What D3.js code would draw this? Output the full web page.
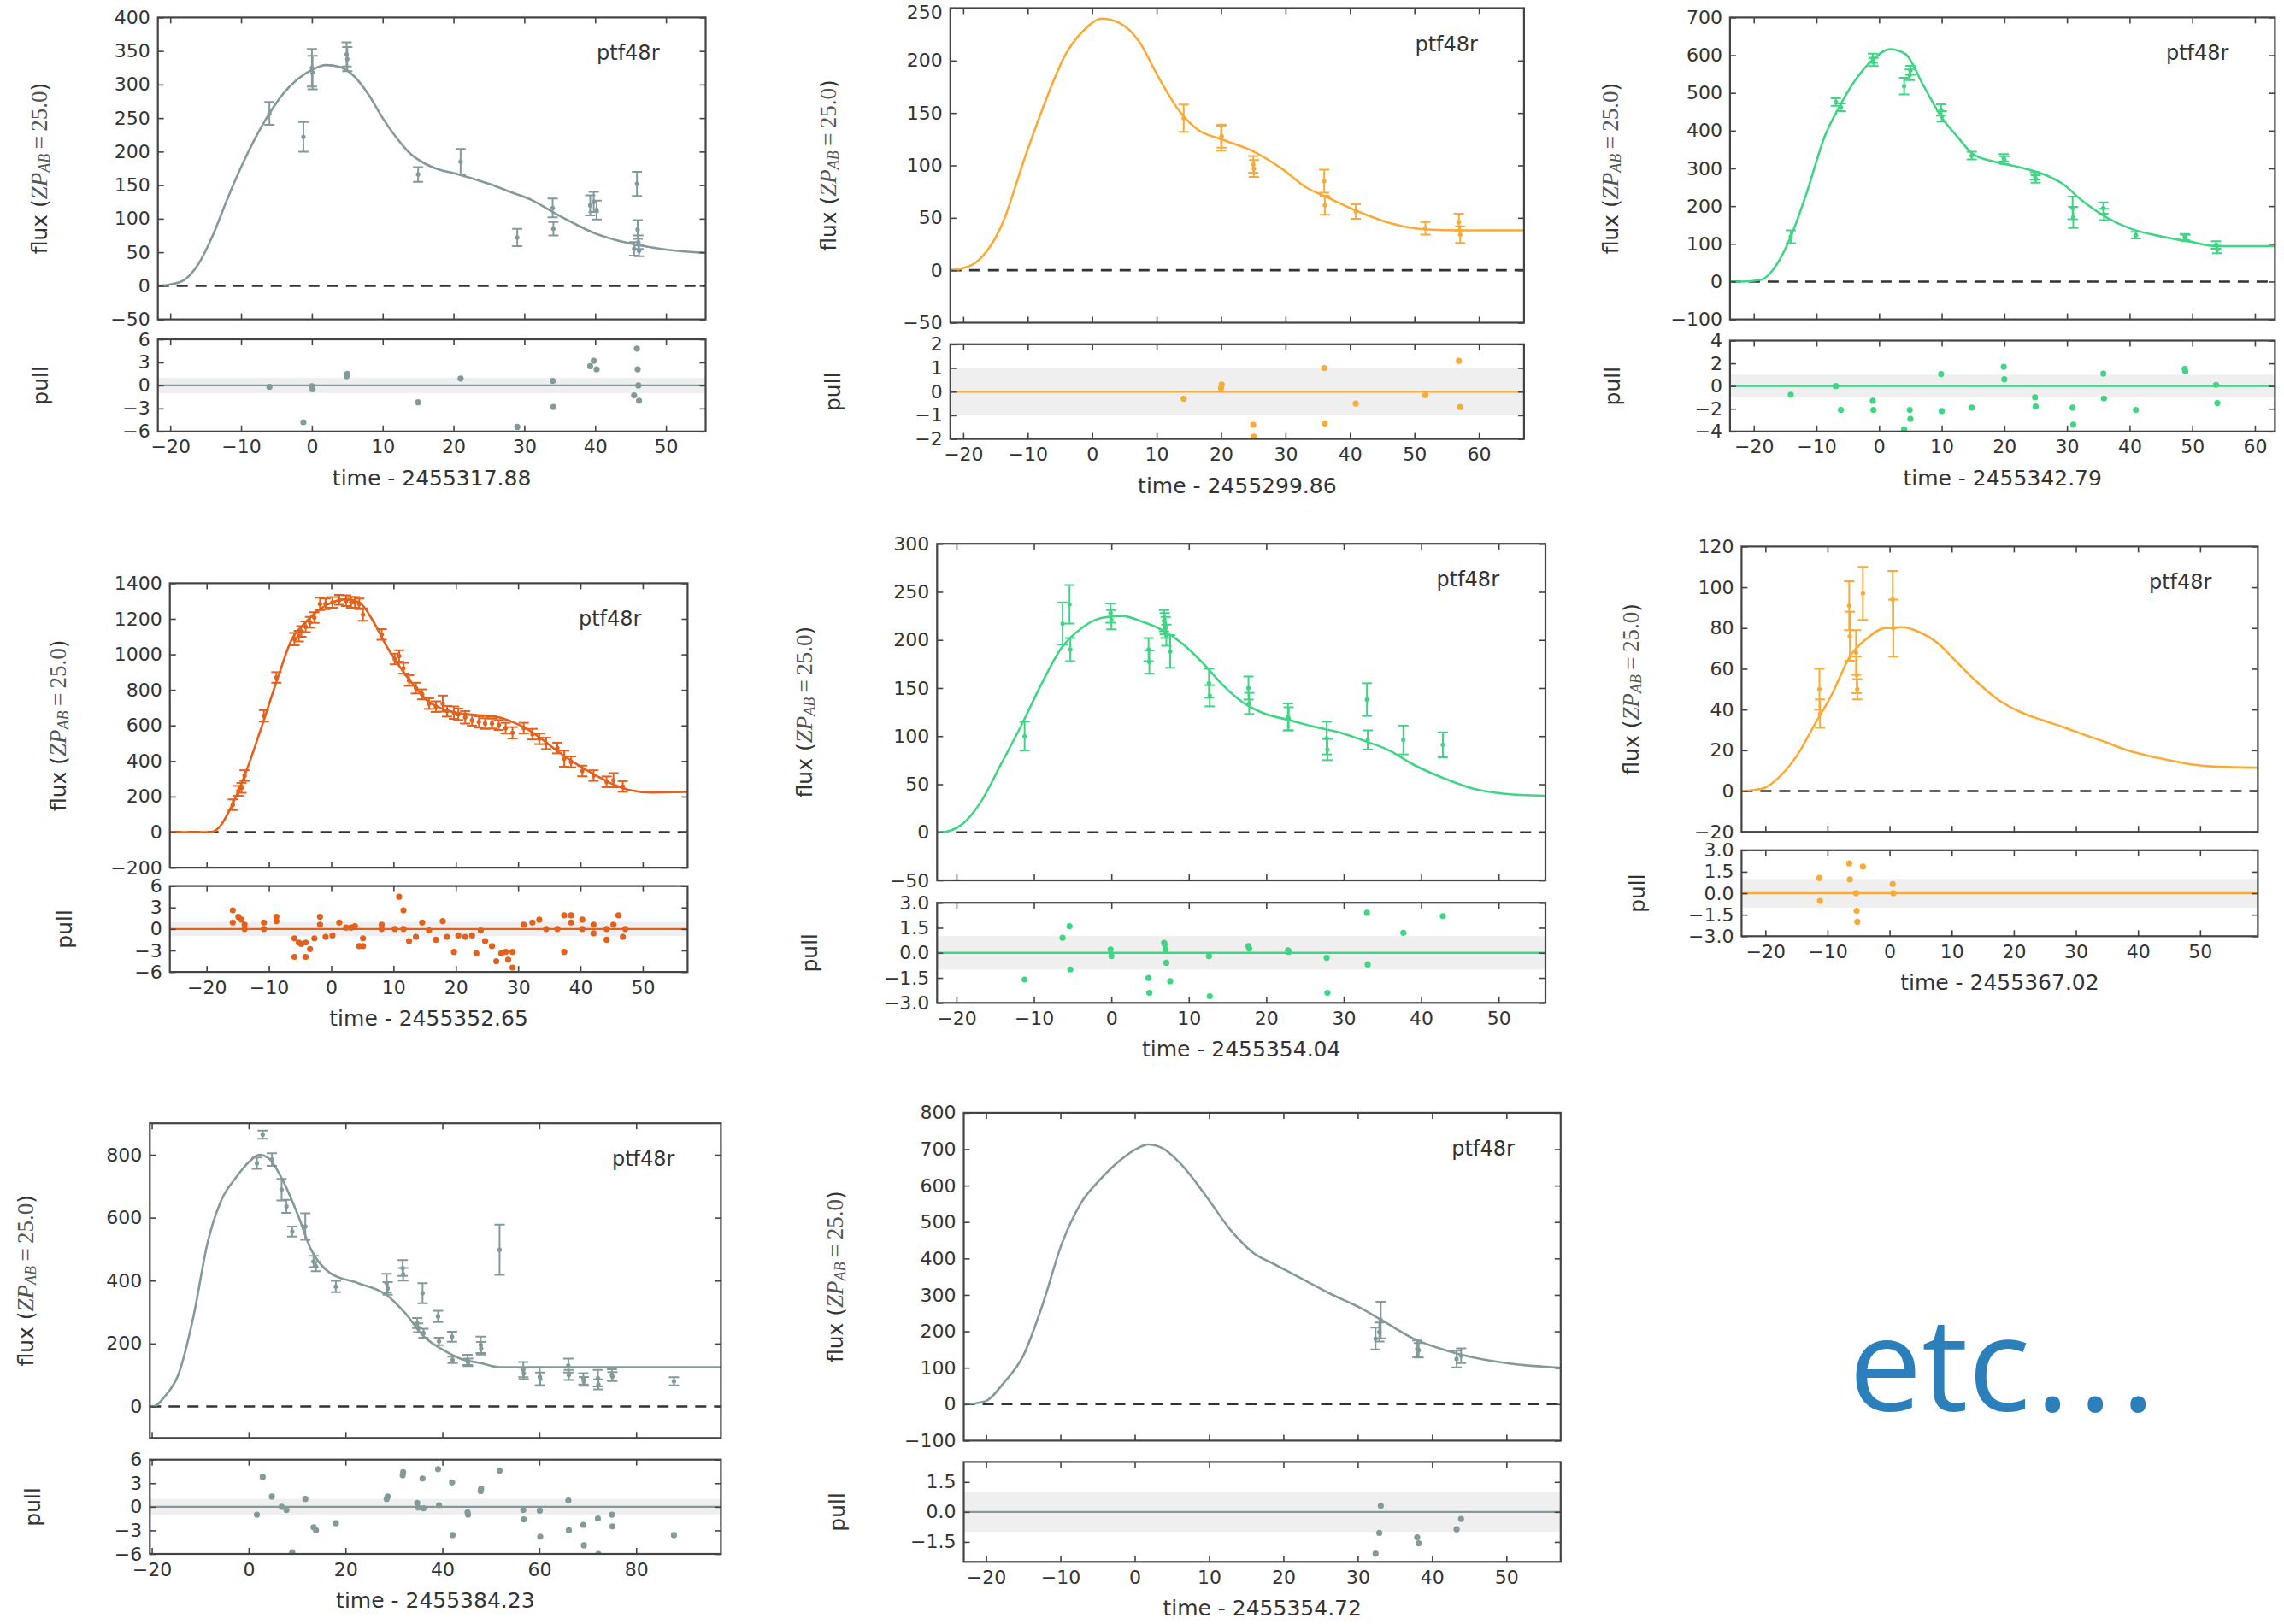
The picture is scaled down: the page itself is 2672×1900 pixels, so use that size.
<!DOCTYPE html>
<html><head><meta charset="utf-8">
<script src="https://cdn.jsdelivr.net/npm/d3@7"></script>
<style>body{margin:0;background:#fff} svg{display:block;background:#fff}</style>
</head><body>
<svg id="c" width="2672" height="1900"></svg>
<script>
// ---------------- DATA ----------------
// Panel 1
const p1Time = [-6, -1.2, 0, 0.1, 4.9, 5.0, 15, 21, 29, 34, 34.1, 39.3, 39.8, 40.2, 45.5, 45.9, 46, 46.1, 46.2];
const p1Flux = [257, 222, 325, 318, 345, 338, 166, 185, 72, 116, 85, 120, 125, 113, 55, 152, 84, 65, 52];
const p1Err  = [17, 22, 28, 25, 18, 18, 11, 19, 13, 14, 10, 15, 15, 14, 10, 18, 14, 10, 8];
const p1ModelT = [-21.75,-20,-18,-16,-14,-12,-10,-8,-6,-4,-2,0,2,4,6,8,10,12,14,16,18,20,22,25,28,31,34,37,40,43,46,50,55.6];
const p1ModelF = [0,2,9,33,75,128,177,220,257,287,308,322,329,326,312,285,250,220,196,182,173,168,162,152,140,128,110,93,78,68,61,54,49];
const p1PullT = p1Time;
const p1PullV = [-0.2, -4.8, -0.1, -0.5, 1.2, 1.5, -2.2, 0.9, -5.4, 0.6, -2.8, 2.5, 3.2, 2.1, -1.3, 4.8, 2.1, 0.0, -2.0];
const p1YTicks = [-50,0,50,100,150,200,250,300,350,400];
const p1XTicks = [-20,-10,0,10,20,30,40,50];
const p1PullTicks = [-6,-3,0,3,6];

// Panel 2
const p2Time = [14.2, 20.0, 20.1, 25.0, 25.1, 36.0, 36.1, 40.9, 51.7, 56.9, 57.1];
const p2Flux = [145, 126, 128, 101, 97, 85, 62, 56, 40, 46, 34];
const p2Err  = [13, 12, 11, 8, 8, 11, 9, 7, 6, 8, 8];
const p2ModelT = [-22,-20.6,-17.9,-14.1,-10.3,-7.2,-4.2,-1.1,1.5,4.2,7.3,10.3,13.4,16.4,20,24.8,29.4,33.2,36.3,40.9,46.2,51.6,56.9,67];
const p2ModelF = [0,1,8,42,110,162,205,230,240,236,218,184,153,134,125,114,97,79,70,57,45,39,38,38];
const p2PullT = p2Time;
const p2PullV = [-0.3, 0.15, 0.3, -1.4, -1.9, 1.0, -1.35, -0.5, -0.15, 1.3, -0.65];
const p2YTicks = [-50,0,50,100,150,200,250];
const p2XTicks = [-20,-10,0,10,20,30,40,50,60];
const p2PullTicks = [-2,-1,0,1,2];

// Panel 3
const p3Time = [-14.1, -6.9, -6.1, -1.0, -0.9, 4.0, 4.9, 5.0, 9.9, 10.0, 14.8, 19.9, 20.0, 24.9, 25.0, 30.9, 31.0, 35.8, 35.9, 41.0, 48.8, 48.9, 53.8, 54.0];
const p3Flux = [119, 476, 462, 592, 582, 518, 548, 560, 455, 438, 334, 328, 322, 280, 272, 195, 170, 195, 178, 123, 118, 116, 97, 85];
const p3Err  = [17, 10, 10, 12, 11, 22, 14, 12, 15, 14, 10, 10, 10, 10, 10, 30, 28, 15, 15, 9, 8, 8, 10, 10];
const p3ModelT = [-23.8,-22,-18.8,-16.6,-14.1,-11.6,-8.7,-6.2,-3.7,-0.8,1.7,4.2,7.1,10,12.5,15,18.6,22.2,26.5,29.4,32.3,35.9,40.2,45.3,49.6,53.9,63.2];
const p3ModelF = [0,0,5,39,119,233,384,468,536,591,616,603,519,435,384,338,317,304,283,258,216,174,140,119,106,94,94];
const p3PullT = p3Time;
const p3PullV = [-0.76, 0.0, -2.1, -1.3, -2.1, -3.8, -2.1, -2.9, 1.06, -2.2, -1.9, 1.7, 0.6, -1.0, -1.8, -1.9, -3.4, 1.1, -1.1, -2.1, 1.5, 1.3, 0.1, -1.5];
const p3YTicks = [-100,0,100,200,300,400,500,600,700];
const p3XTicks = [-20,-10,0,10,20,30,40,50,60];
const p3PullTicks = [-4,-2,0,2,4];

// Panel 4
const p4Time = [-15.8,-14.9,-14.4,-13.9,-10.8,-8.8,-5.9,-5.2,-4.8,-4.1,-3.4,-2.7,-1.8,-0.9,0.2,1.3,2.4,3.2,3.8,4.5,5.1,8.1,10.2,10.9,11.6,12.5,13.6,14.6,15.7,16.8,17.9,18.6,19.7,20.4,21.5,22.6,23.7,24.7,25.8,26.9,28.0,29.1,30.9,32.3,33.4,34.5,36.3,37.4,38.5,40.3,42.1,44.2,45.3,46.8];
const p4Flux = [154,232,249,318,654,870,1086,1103,1129,1155,1181,1207,1284,1284,1293,1307,1302,1293,1293,1284,1224,1112,974,991,922,853,810,775,723,706,723,680,672,663,646,629,620,611,611,603,585,559,585,551,525,499,473,413,395,344,318,283,292,257];
const p4Err  = [30,28,28,30,32,30,35,30,30,30,30,30,35,30,30,28,30,30,30,30,35,30,30,32,30,30,30,28,30,30,45,30,35,32,35,30,32,30,28,28,30,32,30,30,30,32,30,45,30,30,30,30,40,30];
const p4ModelT = [-25.9,-19.3,-17.8,-16,-13.9,-11.4,-8.8,-6.3,-4.1,-2,0.2,2.4,4.5,6.7,8.8,11,13.2,15.4,18.2,21.9,24.7,26.9,29.1,31.2,33.4,36.3,39.2,42.1,44.9,47.8,51.4,57.2];
const p4ModelF = [0,0,35,145,318,568,844,1086,1181,1250,1293,1310,1293,1189,1051,931,827,741,689,663,654,646,620,585,534,456,387,326,275,237,223,226];
const p4PullT = [-15.8,-15.8,-14.9,-14.4,-13.9,-13.9,-10.8,-10.8,-8.8,-8.8,-5.9,-5.9,-5.2,-4.8,-4.1,-4.1,-3.4,-2.7,-1.8,-1.8,-0.9,0.2,1.3,2.4,3.2,3.8,4.5,5.1,5.1,8.1,8.1,10.2,10.9,11.6,11.6,12.5,13.6,14.6,15.7,16.8,17.9,18.6,19.7,20.4,21.5,22.6,23.3,24.0,24.7,25.8,26.5,27.3,28.0,28.4,29.1,29.1,30.9,32.3,33.4,34.5,36.3,37.4,37.4,38.5,38.5,40.3,40.3,42.1,42.1,44.2,44.2,45.3,46.1,46.8,47.2];
const p4PullV = [2.6,0.9,1.7,1.3,0.0,0.6,0.9,0.0,1.7,1.1,-1.3,-3.9,-1.9,-2.1,-1.9,-3.9,-2.8,-1.3,1.7,0.6,-1.1,-0.9,0.9,0.2,0.2,0.4,-2.4,-1.3,-2.4,0.6,0.0,0.0,4.5,2.6,0.0,-1.7,-1.1,0.9,-0.2,-1.5,1.1,-1.1,-3.2,-0.9,-1.1,-0.9,-3.4,-0.2,-1.7,-2.4,-4.5,-3.4,-3.2,-4.3,-3.2,-5.4,0.6,0.9,1.3,0.0,0.0,1.9,-3.2,1.9,0.9,1.3,0.0,0.6,-0.6,-1.5,0.0,0.6,1.9,-1.1,0.0];
const p4YTicks = [-200,0,200,400,600,800,1000,1200,1400];
const p4XTicks = [-20,-10,0,10,20,30,40,50];
const p4PullTicks = [-6,-3,0,3,6];

// Panel 5
const p5Time = [-11.2, -6.3, -5.4, -5.3, -0.1, 0.0, 4.8, 4.9, 6.8, 6.9, 7.0, 7.1, 7.6, 12.6, 12.7, 17.7, 17.8, 22.8, 22.9, 27.8, 27.9, 33.0, 33.1, 37.7, 42.8];
const p5Flux = [100, 217, 237, 190, 228, 221, 190, 177, 220, 217, 213, 205, 188, 155, 142, 150, 134, 120, 118, 98, 86, 138, 96, 96, 91];
const p5Err  = [15, 22, 20, 12, 10, 10, 12, 12, 11, 11, 11, 11, 17, 15, 11, 12, 11, 14, 12, 17, 11, 17, 10, 15, 13];
const p5ModelT = [-22.5,-22.1,-19.5,-16.9,-14.3,-11.7,-9.1,-6.5,-3.9,-1.2,1.4,4,6.6,9.2,11.8,14.4,17,19.6,22.8,26.1,29.4,32.7,35.9,39.1,43,46.9,50.8,56.05];
const p5ModelF = [0,0,7,31,70,110,153,191,212,223,225,219,210,196,176,153,135,124,117,110,104,95,85,70,56,45,40,38];
const p5PullT = p5Time;
const p5PullV = [-1.6, 0.9, 1.6, -1.0, 0.2, -0.2, -1.5, -2.4, 0.6, 0.5, 0.2, -0.6, -1.7, -0.2, -2.6, 0.4, 0.25, 0.15, 0.05, -0.3, -2.4, 2.4, -0.7, 1.2, 2.2];
const p5YTicks = [-50,0,50,100,150,200,250,300];
const p5XTicks = [-20,-10,0,10,20,30,40,50];
const p5PullTicks = [-3,-1.5,0,1.5,3];

// Panel 6
const p6Time = [-11.3, -11.2, -6.5, -6.4, -5.4, -5.3, -5.2, -4.3, 0.5, 0.6];
const p6Flux = [50, 38, 91, 76, 68, 57, 50, 97, 94, 80];
const p6Err  = [10, 7, 12, 12, 11, 9, 5, 13, 14, 14];
const p6ModelT = [-23.84,-23.1,-20.3,-17.6,-14.8,-12,-9.2,-6.4,-3.6,-0.8,2,4.8,7.6,10.4,13.9,17.4,20.9,24.4,27.9,31.3,34.8,38.3,41.8,45.3,48.8,52.3,59.3];
const p6ModelF = [0,0.2,1.4,7.4,18,33,48,66,75,80,80.4,78,73,64.6,54,45,39,35,31.5,27.7,24,20,17.2,15,13,12,11.5];
const p6PullT = p6Time;
const p6PullV = [1.07, -0.54, 2.08, 0.96, 0.0, -1.22, -1.99, 1.86, 0.64, 0.0];
const p6YTicks = [-20,0,20,40,60,80,100,120];
const p6XTicks = [-20,-10,0,10,20,30,40,50];
const p6PullTicks = [-3,-1.5,0,1.5,3];

// Panel 7
const p7Time = [1.7, 2.9, 4.8, 6.8, 7.8, 9.0, 11.7, 13.4, 13.9, 18.0, 28.5, 28.7, 31.8, 31.9, 34.8, 35.0, 35.9, 36.1, 39.1, 39.3, 42.0, 42.1, 45.2, 45.3, 47.9, 48.0, 51.8, 56.7, 56.8, 60.1, 60.2, 66.0, 66.1, 69.1, 69.2, 72.1, 72.2, 75.0, 75.1, 87.8];
const p7Flux = [773, 864, 785, 689, 636, 556, 572, 461, 445, 381, 392, 375, 440, 420, 265, 250, 360, 233, 286, 207, 222, 148, 148, 140, 196, 185, 498, 117, 105, 95, 88, 130, 100, 88, 80, 90, 70, 100, 95, 80];
const p7Err  = [18, 13, 20, 34, 21, 16, 42, 18, 15, 18, 30, 20, 25, 20, 16, 14, 32, 14, 18, 12, 16, 10, 16, 12, 26, 20, 80, 24, 18, 29, 20, 22, 16, 18, 14, 26, 16, 18, 14, 13];
const p7ModelT = [-20.4,-19.7,-17.3,-14.4,-11.4,-8.5,-5.6,-2.7,0.2,2.2,4.1,7,10,12.9,16.8,22.6,28.4,32.3,36.2,40.1,44,47.9,51.8,97.5];
const p7ModelF = [0,0,32,106,286,519,657,726,779,800,789,720,615,498,424,392,355,297,222,180,150,138,125,125];
const p7PullT = p7Time;
const p7PullV = [-1.0, 3.8, 1.3, 0.0, -0.4, -5.8, 1.0, -2.6, -3.0, -2.1, 1.0, 1.3, 4.0, 4.4, 0.5, -0.1, 3.6, -0.2, 4.8, 0.2, 3.1, -3.6, -0.7, -1.0, 2.0, 2.3, 4.6, -0.4, -1.6, -0.5, -3.8, 0.8, -3.0, -2.3, -4.9, -1.5, -6.0, -1.0, -2.5, -3.6];
const p7YTicks = [0,200,400,600,800];
const p7XTicks = [-20,0,20,40,60,80];
const p7PullTicks = [-6,-3,0,3,6];

// Panel 8
const p8Time = [32.4, 32.9, 33.1, 38.0, 38.2, 43.3, 43.9];
const p8Flux = [180, 198, 231, 152, 148, 124, 133];
const p8Err  = [30, 26, 50, 23, 20, 23, 20];
const p8ModelT = [-23,-22.8,-20.2,-17.6,-15,-12.4,-9.8,-7.2,-4.6,-2,0.5,1.8,3.8,6.4,9.6,12.9,16.1,18.7,22.6,26.5,30.4,33.6,37.5,42,46.6,51.1,57.3];
const p8ModelF = [0,0,7,59,133,273,441,553,618,669,704,713,702,655,571,478,413,385,343,301,264,226,180,147,124,110,100];
const p8PullT = p8Time;
const p8PullV = [-2.09, -1.05, 0.3, -1.27, -1.57, -0.87, -0.35];
const p8YTicks = [-100,0,100,200,300,400,500,600,700,800];
const p8XTicks = [-20,-10,0,10,20,30,40,50];
const p8PullTicks = [-1.5,0,1.5];

const timeOffsets = ["2455317.88","2455299.86","2455342.79","2455352.65","2455354.04","2455367.02","2455384.23","2455354.72"];
const bandName = "ptf48r";
const extraWord = "etc";
const extraDots = "...";

// ---------------- STYLE / LAYOUT ----------------
const colGray = "#84999a", colOrange = "#f9ab35", colGreen = "#40d585", colDark = "#e2621d";
const layout = [
  {x0:184.7, x1:825.5, m0:20.4, m1:373.6, q0:397, q1:504.8, xd:[-21.75,55.6], yd:[-50,400], pd:[-6,6], ylx:46, plx:48, col:colGray, dec:0},
  {x0:1111.8, x1:1782.9, m0:9.5, m1:377.5, q0:402.8, q1:513.6, xd:[-22,67], yd:[-50,250], pd:[-2,2], ylx:969, plx:975, col:colOrange, dec:0},
  {x0:2023.9, x1:2661.4, m0:20.4, m1:373.6, q0:398.5, q1:504.8, xd:[-23.8,63.2], yd:[-100,700], pd:[-4,4], ylx:1884, plx:1887, col:colGreen, dec:0},
  {x0:198.7, x1:804.4, m0:682.4, m1:1015.1, q0:1036.6, q1:1137.1, xd:[-25.9,57.2], yd:[-200,1400], pd:[-6,6], ylx:68, plx:76, col:colDark, dec:0},
  {x0:1096.3, x1:1808, m0:636.2, m1:1030, q0:1056.2, q1:1173.3, xd:[-22.5,56.05], yd:[-50,300], pd:[-3,3], ylx:941, plx:947, col:colGreen, dec:1},
  {x0:2037.4, x1:2641.4, m0:639.4, m1:973.2, q0:994.8, q1:1095.3, xd:[-23.84,59.3], yd:[-20,120], pd:[-3,3], ylx:1908, plx:1916, col:colOrange, dec:1},
  {x0:175.3, x1:843.4, m0:1314.2, m1:1682.3, q0:1707.7, q1:1818, xd:[-20.4,97.5], yd:[-100,900], pd:[-6,6], ylx:30, plx:39, col:colGray, dec:0},
  {x0:1127.5, x1:1825.8, m0:1301.9, m1:1685.4, q0:1710.4, q1:1827.3, xd:[-23,57.3], yd:[-100,800], pd:[-2.5,2.5], ylx:977, plx:980, col:colGray, dec:1}
];

const panelData = [
  {t:p1Time,f:p1Flux,e:p1Err,mt:p1ModelT,mf:p1ModelF,pt:p1PullT,pv:p1PullV,yt:p1YTicks,xt:p1XTicks,ptk:p1PullTicks},
  {t:p2Time,f:p2Flux,e:p2Err,mt:p2ModelT,mf:p2ModelF,pt:p2PullT,pv:p2PullV,yt:p2YTicks,xt:p2XTicks,ptk:p2PullTicks},
  {t:p3Time,f:p3Flux,e:p3Err,mt:p3ModelT,mf:p3ModelF,pt:p3PullT,pv:p3PullV,yt:p3YTicks,xt:p3XTicks,ptk:p3PullTicks},
  {t:p4Time,f:p4Flux,e:p4Err,mt:p4ModelT,mf:p4ModelF,pt:p4PullT,pv:p4PullV,yt:p4YTicks,xt:p4XTicks,ptk:p4PullTicks},
  {t:p5Time,f:p5Flux,e:p5Err,mt:p5ModelT,mf:p5ModelF,pt:p5PullT,pv:p5PullV,yt:p5YTicks,xt:p5XTicks,ptk:p5PullTicks},
  {t:p6Time,f:p6Flux,e:p6Err,mt:p6ModelT,mf:p6ModelF,pt:p6PullT,pv:p6PullV,yt:p6YTicks,xt:p6XTicks,ptk:p6PullTicks},
  {t:p7Time,f:p7Flux,e:p7Err,mt:p7ModelT,mf:p7ModelF,pt:p7PullT,pv:p7PullV,yt:p7YTicks,xt:p7XTicks,ptk:p7PullTicks},
  {t:p8Time,f:p8Flux,e:p8Err,mt:p8ModelT,mf:p8ModelF,pt:p8PullT,pv:p8PullV,yt:p8YTicks,xt:p8XTicks,ptk:p8PullTicks}
];

const TXT = "#333", AX = "#444";
const FONT = "DejaVu Sans";
const TICKFS = 22, LABFS = 25;
const svg = d3.select("#c");
svg.append("rect").attr("width",2672).attr("height",1900).attr("fill","#fff");
const defs = svg.append("defs");

const minus = s => s.replace(/-/g, "\u2212");

function styleAxis(g){
  g.select(".domain").remove();
  g.selectAll(".tick line").attr("stroke", AX).attr("stroke-width", 1.6);
  g.selectAll(".tick text").attr("font-family", FONT).attr("font-size", TICKFS).attr("fill", TXT);
}

panelData.forEach((d, i) => {
  const L = layout[i];
  const g = svg.append("g");
  const x = d3.scaleLinear().domain(L.xd).range([L.x0, L.x1]);
  const y = d3.scaleLinear().domain(L.yd).range([L.m1, L.m0]);
  const yp = d3.scaleLinear().domain(L.pd).range([L.q1, L.q0]);
  const fmtY = v => minus(d3.format("d")(v));
  const fmtP = v => minus(d3.format(L.dec ? ".1f" : "d")(v));

  const cm = "clipm" + i, cp = "clipp" + i;
  defs.append("clipPath").attr("id", cm).append("rect")
    .attr("x", L.x0).attr("y", L.m0).attr("width", L.x1 - L.x0).attr("height", L.m1 - L.m0);
  defs.append("clipPath").attr("id", cp).append("rect")
    .attr("x", L.x0).attr("y", L.q0).attr("width", L.x1 - L.x0).attr("height", L.q1 - L.q0);

  // ---- main plot ----
  const gm = g.append("g").attr("clip-path", `url(#${cm})`);
  gm.append("line").attr("x1", L.x0).attr("x2", L.x1).attr("y1", y(0)).attr("y2", y(0))
    .attr("stroke", "#333").attr("stroke-width", 2.6).attr("stroke-dasharray", "13,9");
  const line = d3.line().x(v => x(v[0])).y(v => y(v[1])).curve(d3.curveMonotoneX);
  gm.append("path").datum(d.mt.map((t, k) => [t, d.mf[k]]))
    .attr("d", line).attr("fill", "none").attr("stroke", L.col).attr("stroke-width", 2.6);
  const pts = d.t.map((t, k) => ({t, f: d.f[k], e: d.e[k]}));
  const eb = gm.append("g").attr("stroke", L.col).attr("stroke-width", 2);
  pts.forEach(p => {
    eb.append("line").attr("x1", x(p.t)).attr("x2", x(p.t)).attr("y1", y(p.f - p.e)).attr("y2", y(p.f + p.e));
    eb.append("line").attr("x1", x(p.t) - 6).attr("x2", x(p.t) + 6).attr("y1", y(p.f - p.e)).attr("y2", y(p.f - p.e));
    eb.append("line").attr("x1", x(p.t) - 6).attr("x2", x(p.t) + 6).attr("y1", y(p.f + p.e)).attr("y2", y(p.f + p.e));
  });
  gm.append("g").selectAll("circle").data(pts).join("circle")
    .attr("cx", p => x(p.t)).attr("cy", p => y(p.f)).attr("r", 2.6).attr("fill", L.col);

  // axes main
  const la = g.append("g").attr("transform", `translate(${L.x0},0)`)
    .call(d3.axisLeft(y).tickValues(d.yt).tickSize(-7).tickPadding(9).tickFormat(fmtY)).call(styleAxis);
  // keep the topmost label inside the page
  la.selectAll(".tick").each(function(v){
    if (y(v) < 14) d3.select(this).select("text").attr("dy", (0.32 + (14 - y(v)) / TICKFS) + "em");
  });
  g.append("g").attr("transform", `translate(${L.x1},0)`)
    .call(d3.axisRight(y).tickValues(d.yt).tickSize(-7).tickFormat("")).call(styleAxis);
  g.append("g").attr("transform", `translate(0,${L.m0})`)
    .call(d3.axisTop(x).tickValues(d.xt).tickSize(-7).tickFormat("")).call(styleAxis);
  g.append("g").attr("transform", `translate(0,${L.m1})`)
    .call(d3.axisBottom(x).tickValues(d.xt).tickSize(-7).tickFormat("")).call(styleAxis);
  g.append("rect").attr("x", L.x0).attr("y", L.m0).attr("width", L.x1 - L.x0).attr("height", L.m1 - L.m0)
    .attr("fill", "none").attr("stroke", AX).attr("stroke-width", 2.2);

  // band label
  g.append("text").attr("x", L.x1 - 54).attr("y", L.m0 + 50).attr("text-anchor", "end")
    .attr("font-family", FONT).attr("font-size", 24).attr("fill", TXT).text(bandName);

  // y label
  const ymid = (L.m0 + L.m1) / 2;
  const yl = g.append("text").attr("x", L.ylx).attr("y", ymid)
    .attr("transform", `rotate(-90,${L.ylx},${ymid})`).attr("text-anchor", "middle")
    .attr("dominant-baseline", "central").attr("font-family", FONT).attr("font-size", LABFS).attr("fill", TXT);
  yl.append("tspan").text("flux (");
  yl.append("tspan").attr("font-family", "Liberation Serif").attr("font-style", "italic").attr("fill", "#555").attr("font-size", 27).text("ZP");
  yl.append("tspan").attr("font-family", "Liberation Serif").attr("font-style", "italic").attr("fill", "#555").attr("font-size", 18).attr("dy", 6).text("AB");
  yl.append("tspan").attr("font-family", "Liberation Serif").attr("fill", "#555").attr("font-size", 27).attr("dy", -6).text("\u2009=\u200925.0");
  yl.append("tspan").text(")");

  // ---- pull plot ----
  const gp = g.append("g").attr("clip-path", `url(#${cp})`);
  gp.append("rect").attr("x", L.x0).attr("width", L.x1 - L.x0)
    .attr("y", yp(1)).attr("height", yp(-1) - yp(1)).attr("fill", "#efefef");
  gp.append("line").attr("x1", L.x0).attr("x2", L.x1).attr("y1", yp(0)).attr("y2", yp(0))
    .attr("stroke", L.col).attr("stroke-width", 2.4);
  gp.append("g").selectAll("circle").data(d.pt.map((t, k) => [t, d.pv[k]])).join("circle")
    .attr("cx", v => x(v[0])).attr("cy", v => yp(v[1])).attr("r", 3.6).attr("fill", L.col);

  g.append("g").attr("transform", `translate(${L.x0},0)`)
    .call(d3.axisLeft(yp).tickValues(d.ptk).tickSize(-7).tickPadding(9).tickFormat(fmtP)).call(styleAxis);
  g.append("g").attr("transform", `translate(${L.x1},0)`)
    .call(d3.axisRight(yp).tickValues(d.ptk).tickSize(-7).tickFormat("")).call(styleAxis);
  g.append("g").attr("transform", `translate(0,${L.q0})`)
    .call(d3.axisTop(x).tickValues(d.xt).tickSize(-7).tickFormat("")).call(styleAxis);
  g.append("g").attr("transform", `translate(0,${L.q1})`)
    .call(d3.axisBottom(x).tickValues(d.xt).tickSize(-7).tickPadding(10).tickFormat(v => minus(String(v)))).call(styleAxis);
  g.append("rect").attr("x", L.x0).attr("y", L.q0).attr("width", L.x1 - L.x0).attr("height", L.q1 - L.q0)
    .attr("fill", "none").attr("stroke", AX).attr("stroke-width", 2.2);

  const qmid = (L.q0 + L.q1) / 2;
  g.append("text").attr("x", L.plx).attr("y", qmid)
    .attr("transform", `rotate(-90,${L.plx},${qmid})`).attr("text-anchor", "middle")
    .attr("dominant-baseline", "central").attr("font-family", FONT).attr("font-size", LABFS).attr("fill", TXT).text("pull");

  g.append("text").attr("x", (L.x0 + L.x1) / 2).attr("y", L.q1 + 63).attr("text-anchor", "middle")
    .attr("font-family", FONT).attr("font-size", LABFS).attr("fill", TXT).text("time - " + timeOffsets[i]);
});

const etc = svg.append("text").attr("x", 2163).attr("y", 1651).attr("font-family", "Open Sans")
  .attr("font-size", 152).attr("fill", "#2b7fba");
etc.append("tspan").text(extraWord);
etc.append("tspan").attr("dx", 6).attr("letter-spacing", 10).text(extraDots);
</script>
</body></html>
